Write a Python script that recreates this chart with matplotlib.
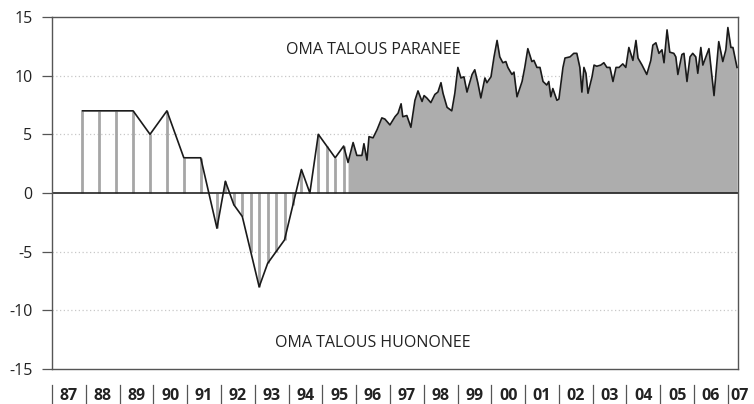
import matplotlib
matplotlib.use("Agg")
import matplotlib.pyplot as plt
import matplotlib.transforms as mtransforms
import numpy as np

plt.rcParams['font.family'] = ['Open Sans', 'DejaVu Sans']

# survey points 1987-1995 (semi-annual, later quarterly), shown as stems
early_t = [1987.9, 1988.4, 1988.9, 1989.4, 1989.9, 1990.4, 1990.9, 1991.4,
           1991.88, 1992.13, 1992.38, 1992.63, 1992.88, 1993.13, 1993.38, 1993.63,
           1993.88, 1994.13, 1994.38, 1994.63, 1994.88, 1995.13, 1995.38, 1995.63]
early_v = [7, 7, 7, 7, 5, 7, 3, 3,
           -3, 1, -1, -2, -5, -8, -6, -5,
           -4, -1, 2, 0, 5, 4, 3, 4]

# monthly points from late 1995, shown as filled area
month_t = [1995.76, 1995.91, 1996.02, 1996.17, 1996.23, 1996.32, 1996.38, 1996.50,
           1996.62, 1996.76, 1996.85, 1997.00, 1997.15, 1997.24, 1997.33, 1997.38,
           1997.50, 1997.62, 1997.74, 1997.83, 1997.95, 1998.01, 1998.09, 1998.21,
           1998.33, 1998.42, 1998.51, 1998.57, 1998.69, 1998.83, 1998.92, 1999.01,
           1999.10, 1999.19, 1999.28, 1999.43, 1999.51, 1999.60, 1999.69, 1999.81,
           1999.87, 1999.99, 2000.08, 2000.17, 2000.25, 2000.34, 2000.43, 2000.49,
           2000.61, 2000.67, 2000.76, 2000.91, 2000.99, 2001.08, 2001.20, 2001.26,
           2001.35, 2001.44, 2001.53, 2001.64, 2001.70, 2001.76, 2001.82, 2001.94,
           2002.00, 2002.12, 2002.18, 2002.33, 2002.44, 2002.53, 2002.62, 2002.68,
           2002.74, 2002.80, 2002.86, 2002.98, 2003.04, 2003.12, 2003.24, 2003.33,
           2003.42, 2003.51, 2003.60, 2003.69, 2003.78, 2003.89, 2003.98, 2004.07,
           2004.19, 2004.28, 2004.34, 2004.46, 2004.60, 2004.72, 2004.78, 2004.87,
           2004.96, 2005.05, 2005.11, 2005.20, 2005.28, 2005.40, 2005.46, 2005.52,
           2005.64, 2005.70, 2005.79, 2005.88, 2005.96, 2006.05, 2006.11, 2006.20,
           2006.26, 2006.35, 2006.44, 2006.53, 2006.59, 2006.73, 2006.85, 2006.94,
           2007.00, 2007.09, 2007.15, 2007.27]
month_v = [2.6, 4.3, 3.2, 3.2, 4.2, 2.8, 4.8, 4.7,
           5.4, 6.4, 6.3, 5.8, 6.5, 6.8, 7.6, 6.5,
           6.6, 5.6, 7.9, 8.7, 7.8, 8.3, 8.1, 7.7,
           8.4, 8.6, 9.4, 8.5, 7.3, 7.0, 8.5, 10.7,
           9.8, 9.9, 8.6, 10.1, 10.5, 9.4, 8.1, 9.8,
           9.4, 9.9, 11.6, 13.0, 11.6, 11.1, 11.2, 10.7,
           10.1, 10.3, 8.2, 9.5, 10.7, 12.3, 11.2, 11.3,
           10.7, 10.7, 9.5, 9.2, 9.5, 8.2, 8.9, 7.9,
           8.0, 10.7, 11.5, 11.6, 11.9, 11.9, 10.7, 8.6,
           10.7, 10.2, 8.5, 9.9, 10.9, 10.8, 10.9, 11.1,
           10.7, 10.7, 9.5, 10.7, 10.7, 11.0, 10.7, 12.4,
           11.3, 13.0, 11.5, 10.9, 10.1, 11.3, 12.6, 12.8,
           11.9, 12.2, 11.1, 13.9, 12.0, 11.9, 11.6, 10.1,
           11.8, 11.9, 9.5, 11.6, 11.9, 11.6, 10.2, 12.4,
           10.9, 11.6, 12.3, 9.9, 8.3, 12.9, 11.2, 12.2,
           14.1, 12.4, 12.4, 10.7]

year_labels = ['87', '88', '89', '90', '91', '92', '93', '94', '95', '96', '97',
               '98', '99', '00', '01', '02', '03', '04', '05', '06', '07']
first_year = 1987
y_ticks = [15, 10, 5, 0, -5, -10, -15]

fig = plt.figure(figsize=(7.54, 4.04), dpi=100)
ax = fig.add_axes([0.069, 0.0866, 0.9098, 0.8714])

xmax = 2007.3
ax.set_xlim(first_year, xmax)
ax.set_ylim(-15, 15)

# faint dotted grid
for g in [10, 5, -5, -10]:
    ax.axhline(g, color='#c8c8c8', lw=0.9, ls=(0, (1, 2)), zorder=0)

# stems for the early sparse data
ax.vlines(early_t, 0, early_v, colors='#a6a6a6', lw=2.0, zorder=1)

# filled monthly part
ax.fill_between(month_t, 0, month_v, color='#adadad', lw=0, zorder=1)

all_t = early_t + month_t
all_v = early_v + month_v
ax.plot(all_t, all_v, color='#1a1a1a', lw=1.2, zorder=3)

ax.axhline(0, color='#222222', lw=1.2, zorder=2)

for s in ax.spines.values():
    s.set_color('#555555')
    s.set_linewidth(1.0)

ax.set_yticks(y_ticks)
ax.set_yticklabels([str(v) for v in y_ticks])
ax.tick_params(axis='y', direction='out', length=7, width=0.9, color='#555555',
               pad=7, labelsize=11.5, labelcolor='#222222')
ax.set_xticks([])

ax.text(1996.5, 12.2, 'OMA TALOUS PARANEE', ha='center', va='center',
        fontsize=11.5, color='#222222')
ax.text(1996.5, -12.8, 'OMA TALOUS HUONONEE', ha='center', va='center',
        fontsize=11.5, color='#222222')

# year labels with separators under the axis
trans = mtransforms.blended_transform_factory(ax.transData, ax.transAxes)
for i, lab in enumerate(year_labels):
    x0 = first_year + i
    ax.plot([x0, x0], [-0.046, -0.11], transform=trans, color='#555555',
            lw=0.9, clip_on=False)
    xc = min(x0 + 0.5, xmax + 0.05)
    ax.text(xc, -0.077, lab, transform=trans, ha='center', va='center',
            fontsize=11.5, fontweight='bold', color='#222222', clip_on=False)

fig.savefig('out.png', dpi=100)
